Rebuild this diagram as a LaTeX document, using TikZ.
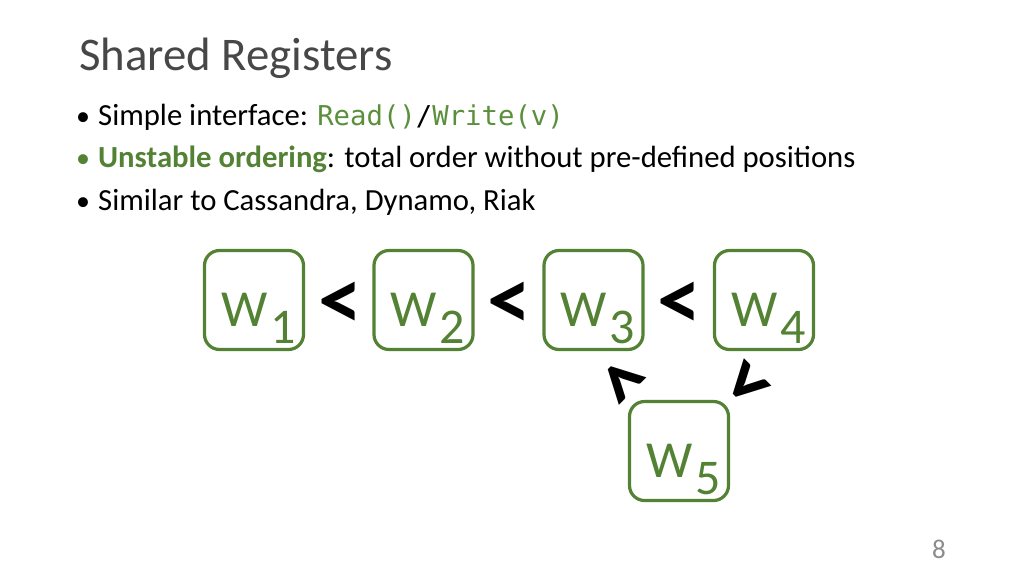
\documentclass[tikz,border=0pt]{standalone}
\usepackage{fontspec}
\setmainfont{Carlito}
\newfontfamily\codefont{DejaVu Sans Mono}
\definecolor{grn}{HTML}{548235}
\definecolor{codegrn}{HTML}{5A8F3C}
\definecolor{pgray}{HTML}{8C8C8C}
\begin{document}
\begin{tikzpicture}[x=1pt,y=-1pt,
  regbox/.style={draw=grn,line width=3.2pt,rounded corners=15pt,minimum width=99pt,minimum height=99pt,inner sep=0pt},
  reglabel/.style={anchor=base west,inner sep=0pt,text=grn,font=\fontsize{52}{52}\selectfont},
  rel/.style={inner sep=0pt,font=\fontsize{88}{88}\selectfont\bfseries},
  bodytxt/.style={anchor=base west,inner sep=0pt,font=\fontsize{30.7}{34}\selectfont},
  bul/.style={anchor=base west,inner sep=0pt,font=\fontsize{28}{30}\selectfont}]
\useasboundingbox (0,0) rectangle (1024,576);
\fill[white] (0,0) rectangle (1024,576);
% title
\node[anchor=base west,inner sep=0pt,font=\fontsize{46.8}{52}\selectfont,text=black!72] (title) at (79,70) {Shared Registers};
% bullets
\node[bul] (b1) at (76,125) {•};
\node[bodytxt] (t1) at (98,125) {Simple interface: {\codefont\fontsize{27.3}{30}\selectfont\color{codegrn}Read()}{\codefont\fontsize{27.3}{30}\selectfont /}{\codefont\fontsize{27.3}{30}\selectfont\color{codegrn}Write(v)}};
\node[bul,text=grn] (b2) at (76,167) {•};
\node[bodytxt] (t2) at (98,167) {{\bfseries\color{grn}Unstable ordering}: total order without pre-defined positions};
\node[bul] (b3) at (76,210) {•};
\node[bodytxt] (t3) at (98,210) {Similar to Cassandra, Dynamo, Riak};
% boxes
\node[regbox] (w1) at (254,300) {};
\node[regbox] (w2) at (423.5,300) {};
\node[regbox] (w3) at (593.5,300) {};
\node[regbox] (w4) at (764,300) {};
\node[regbox] (w5) at (679,451) {};
% labels
\newcommand{\subn}[1]{\kern3pt\raisebox{-17pt}{\fontsize{50}{50}\selectfont #1}}
\node[reglabel] (l1) at (221,326) {W\subn{1}};
\node[reglabel] (l2) at (390.5,326) {W\subn{2}};
\node[reglabel] (l3) at (560.5,326) {W\subn{3}};
\node[reglabel] (l4) at (731,326) {W\subn{4}};
\node[reglabel] (l5) at (646,477) {W\subn{5}};
% relations
\node[rel] (r12) at (340,306) {<};
\node[rel] (r23) at (509,306) {<};
\node[rel] (r34) at (679,306) {<};
\node[rel,rotate=-45] (r35) at (620,384) {<};
\node[rel,rotate=-135] (r45) at (745,380) {>};
% page number
\node[anchor=base,inner sep=0pt,text=pgray,font=\fontsize{27}{28}\selectfont] (pg) at (939,558) {8};
\end{tikzpicture}
\end{document}
